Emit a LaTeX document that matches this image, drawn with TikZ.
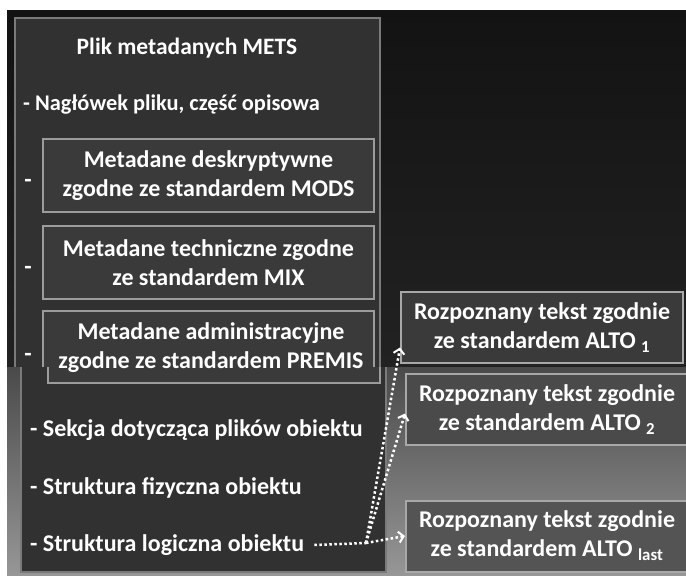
\documentclass[tikz,border=0pt]{standalone}
\usepackage{fontspec}
\setmainfont{Carlito}
\usetikzlibrary{arrows.meta,calc}
\definecolor{bgtopA}{HTML}{131313}
\definecolor{bgtopB}{HTML}{222222}
\definecolor{bgbotA}{HTML}{4A4A4A}
\definecolor{bgbotB}{HTML}{979797}
\definecolor{bigfill}{HTML}{313131}
\definecolor{bigedge}{HTML}{7A7A7A}
\definecolor{innerfill}{HTML}{3A3A3A}
\definecolor{inneredge}{HTML}{9C9C9C}
\definecolor{altoedge}{HTML}{A8A8A8}
\begin{document}
\begin{tikzpicture}[x=1pt,y=-1pt,
  font=\fontsize{24}{29}\selectfont\bfseries,
  txt/.style={text=white, inner sep=0pt},
  box/.style={draw=inneredge, line width=2pt, fill=innerfill, text=white, align=center, inner sep=0pt},
  altobox/.style={draw=altoedge, line width=2pt, text=white, align=center, inner sep=0pt, minimum height=71pt},
  link/.style={draw=white, line width=2.5pt, dash pattern=on 2.5pt off 2.5pt,
    -{Straight Barb[length=5pt,width=11pt,line width=2pt]}}
]
\useasboundingbox (0,0) rectangle (686,576);
\fill[white] (0,0) rectangle (686,576);
% top (dark) part
\shade[top color=bgtopA, bottom color=bgtopB] (7,10) rectangle (686,367);
\begin{scope}
  \clip (0,0) rectangle (686,367);
  \draw[bigedge, line width=2.5pt, fill=bigfill] (15,18) rectangle (380,572);
  \draw[inneredge, line width=2pt, fill=innerfill] (43,311) rectangle (374,383);
\end{scope}
% bottom (grey) part
\begin{scope}
  \clip (0,367) rectangle (686,576);
  \shade[top color=bgbotA, bottom color=bgbotB] (7,367) rectangle (686,576);
  \draw[bigedge, line width=2.5pt, fill=bigfill] (21,24) rectangle (386,572);
  \draw[inneredge, line width=2pt, fill=innerfill] (48,311) rectangle (380,383);
\end{scope}

% texts of the METS file
\node[txt, font=\fontsize{23.5}{29}\selectfont\bfseries] (title) at (187,48) {Plik metadanych METS};
\node[txt, anchor=west, font=\fontsize{22.4}{29}\selectfont\bfseries] (head) at (23,105) {- Nagłówek pliku, część opisowa};
\node[box, minimum width=331pt, minimum height=73pt] (mods) at (208.5,175.5) {Metadane deskryptywne\\zgodne ze standardem MODS};
\node[box, minimum width=331pt, minimum height=73pt] (mix) at (208.5,262.5) {Metadane techniczne zgodne\\ze standardem MIX};
\node[txt, align=center] (premis) at (211,347.5) {Metadane administracyjne\\zgodne ze standardem PREMIS};
\node[txt] (d1) at (28,183) {-};
\node[txt] (d2) at (28,270) {-};
\node[txt] (d3) at (28,357) {-};
\node[txt, anchor=west] (files) at (30,430) {- Sekcja dotycząca plików obiektu};
\node[txt, anchor=west] (phys) at (30,488) {- Struktura fizyczna obiektu};
\node[txt, anchor=west] (logic) at (30,545) {- Struktura logiczna obiektu};

% ALTO boxes
\node[altobox, fill=innerfill, minimum width=282pt] (alto1) at (542,327.5) {Rozpoznany tekst zgodnie\\ze standardem ALTO \textsubscript{1}};
\node[altobox, fill=black!71, minimum width=282pt] (alto2) at (547,409.5) {Rozpoznany tekst zgodnie\\ze standardem ALTO \textsubscript{2}};
\node[altobox, fill=black!67, minimum width=282pt] (alto3) at (547,536) {Rozpoznany tekst zgodnie\\ze standardem ALTO \textsubscript{last}};

% connectors
\coordinate (J) at (366,543);
\draw[draw=white, line width=2.5pt, dash pattern=on 2.5pt off 2.5pt] ([xshift=10pt]logic.east) -- (J);
\draw[link] (J) -- ([yshift=-20pt]alto1.west);
\draw[link] (J) -- ([yshift=-4pt]alto2.west);
\draw[link] (J) -- (alto3.west);
\end{tikzpicture}
\end{document}
